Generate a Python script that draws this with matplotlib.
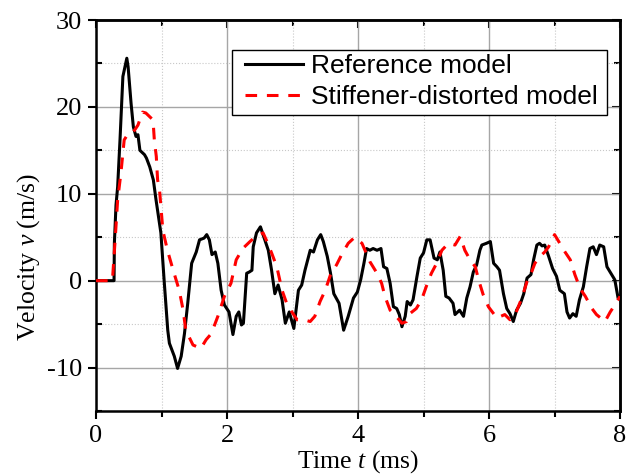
import matplotlib
matplotlib.use('Agg')
import matplotlib.pyplot as plt
from matplotlib.ticker import MultipleLocator, NullFormatter
from matplotlib.patches import Rectangle

plt.rcParams['font.family'] = 'Liberation Serif'
plt.rcParams['mathtext.fontset'] = 'custom'
plt.rcParams['mathtext.rm'] = 'Liberation Serif'
plt.rcParams['mathtext.it'] = 'Liberation Serif:italic'
plt.rcParams['axes.unicode_minus'] = False

# Reference model (black solid)
t_ref = [0.0, 0.275, 0.28, 0.305, 0.33, 0.366, 0.41, 0.47, 0.49, 0.535, 0.57, 0.61, 0.64, 0.67,
         0.74, 0.77, 0.82, 0.875, 0.916, 0.99, 1.04, 1.095, 1.12, 1.195, 1.245, 1.30, 1.35, 1.40,
         1.46, 1.53, 1.58, 1.65, 1.69, 1.73, 1.77, 1.82, 1.86, 1.91, 1.96, 2.03, 2.09, 2.14, 2.18,
         2.22, 2.25, 2.30, 2.34, 2.38, 2.40, 2.45, 2.51, 2.55, 2.63, 2.68, 2.73, 2.78, 2.84, 2.89,
         2.95, 3.02, 3.09, 3.14, 3.19, 3.27, 3.32, 3.38, 3.43, 3.47, 3.53, 3.58, 3.63, 3.71, 3.78,
         3.85, 3.93, 3.99, 4.04, 4.09, 4.13, 4.18, 4.23, 4.29, 4.35, 4.39, 4.44, 4.49, 4.54, 4.59,
         4.63, 4.67, 4.72, 4.75, 4.80, 4.84, 4.90, 4.95, 5.00, 5.05, 5.10, 5.16, 5.21, 5.25, 5.30,
         5.34, 5.39, 5.45, 5.48, 5.55, 5.61, 5.66, 5.71, 5.76, 5.81, 5.86, 5.89, 5.96, 6.02, 6.07,
         6.12, 6.16, 6.22, 6.27, 6.32, 6.37, 6.42, 6.48, 6.53, 6.58, 6.64, 6.68, 6.73, 6.77, 6.81,
         6.85, 6.91, 6.97, 7.03, 7.08, 7.15, 7.19, 7.23, 7.28, 7.33, 7.38, 7.44, 7.49, 7.54, 7.59,
         7.64, 7.69, 7.75, 7.80, 7.86, 7.92, 7.97, 8.0]
v_ref = [0.0, 0.0, 4.3, 8.7, 10.8, 16.2, 23.5, 25.6, 24.6, 20.4, 17.7, 16.6, 16.8, 15.0,
         14.5, 14.1, 13.1, 11.6, 9.3, 5.5, 0.0, -5.7, -7.2, -8.7, -10.1, -8.7, -6.1, -2.6,
         2.0, 3.3, 4.7, 4.9, 5.3, 4.7, 3.0, 3.3, 2.0, -1.1, -2.8, -3.6, -6.2, -4.1, -3.6,
         -5.1, -4.9, 0.85, 1.0, 1.2, 3.9, 5.5, 6.2, 5.3, 3.5, 1.2, -1.5, -0.5, -2.2, -4.9,
         -3.6, -5.5, -1.1, -0.5, 1.2, 3.5, 3.3, 4.7, 5.3, 4.5, 2.8, 0.85, -1.5, -2.6, -5.7,
         -4.1, -2.0, -1.3, 0.1, 2.0, 3.7, 3.5, 3.7, 3.5, 3.7, 1.6, 1.4, -0.3, -3.0, -3.2,
         -3.9, -5.3, -4.1, -2.4, -2.8, -2.2, 0.5, 2.6, 3.2, 4.7, 4.7, 2.6, 2.4, 3.3, 1.2,
         -1.8, -2.0, -2.6, -3.9, -3.4, -4.1, -2.0, -0.7, 1.0, 1.8, 3.5, 4.1, 4.3, 4.5, 2.0,
         1.6, 1.2, -1.5, -3.2, -3.8, -4.7, -3.4, -2.6, -1.5, 0.3, 0.7, 2.4, 4.1, 4.3, 4.0,
         4.1, 2.8, 1.4, 0.5, -1.1, -1.5, -3.6, -4.3, -3.8, -4.1, -2.2, -0.7, 1.6, 3.7, 3.9,
         3.0, 4.1, 3.9, 1.6, 0.85, 0.1, -2.0, -1.8]

# Stiffener-distorted model (red dashed)
t_stf = [0.0, 0.25, 0.29, 0.33, 0.38, 0.43, 0.48, 0.56, 0.64, 0.71, 0.76, 0.87, 0.89, 0.92,
         0.94, 0.97, 1.02, 1.09, 1.17, 1.27, 1.33, 1.37, 1.48, 1.60, 1.68, 1.76, 1.86, 1.96,
         2.06, 2.14, 2.24, 2.35, 2.44, 2.55, 2.61, 2.68, 2.76, 2.84, 2.91, 2.99, 3.07, 3.17,
         3.27, 3.34, 3.42, 3.50, 3.58, 3.67, 3.75, 3.85, 3.95, 4.06, 4.18, 4.29, 4.36, 4.41,
         4.49, 4.56, 4.67, 4.74, 4.79, 4.89, 4.97, 5.05, 5.12, 5.20, 5.28, 5.38, 5.48, 5.56,
         5.63, 5.71, 5.79, 5.84, 5.91, 5.99, 6.12, 6.24, 6.32, 6.40, 6.50, 6.58, 6.65, 6.70,
         6.78, 6.85, 6.91, 7.00, 7.08, 7.16, 7.24, 7.31, 7.39, 7.47, 7.57, 7.64, 7.77, 7.85,
         7.92, 8.0]
v_stf = [0.0, 0.0, 4.5, 9.3, 12.4, 16.2, 16.8, 17.0, 17.9, 19.4, 19.3, 18.5, 16.2, 14.3,
         11.6, 10.4, 5.8, 3.5, 1.4, -1.1, -3.4, -5.7, -7.4, -7.8, -6.8, -6.1, -4.1, -1.8,
         -0.3, 2.4, 3.7, 4.5, 5.1, 5.5, 4.5, 3.2, 1.6, -1.1, -2.6, -3.6, -4.5, -4.5,
         -4.7, -4.1, -2.4, -1.1, 0.7, 1.8, 3.0, 4.3, 5.0, 4.3, 2.2, 0.85, -0.3, -1.8,
         -3.4, -3.9, -4.9, -4.7, -3.8, -3.2, -2.2, -0.5, 0.85, 2.0, 3.5, 4.3, 4.1, 5.1,
         3.5, 2.4, 1.6, 0.1, -1.6, -3.0, -4.3, -3.9, -4.5, -3.9, -2.0, -0.1, 1.0, 2.0,
         2.8, 3.3, 3.9, 5.3, 4.3, 3.3, 2.4, 0.7, -0.9, -1.8, -3.2, -3.9, -4.7, -3.6,
         -2.8, -1.8]

fig = plt.figure(figsize=(6.26, 4.74), dpi=100)
ax = fig.add_axes([0.1534, 0.1329, 0.8371, 0.8249])

ax.plot(t_ref, v_ref, color='black', lw=2.2, label='Reference model', zorder=3)
ax.plot(t_stf, v_stf, color='red', lw=2.2, dashes=(3.8, 3.2), label='Stiffener-distorted model', zorder=4)

ax.set_xlim(0, 8)
ax.set_ylim(-15, 30)
ax.xaxis.set_major_locator(MultipleLocator(2))
ax.xaxis.set_minor_locator(MultipleLocator(1))
ax.yaxis.set_major_locator(MultipleLocator(10))
ax.yaxis.set_minor_locator(MultipleLocator(5))

ax.grid(which='major', color='#a6a6a6', lw=1.0, ls='-')
ax.grid(which='minor', color='#c8c8c8', lw=0.8, ls=':')
ax.set_axisbelow(True)

# bottom / left: ticks outward; top / right: ticks inward
ax.tick_params(which='both', direction='out', width=1.5, labelsize=19)
ax.tick_params(which='major', length=6, pad=4)
ax.tick_params(which='minor', length=4)
ax.tick_params(axis='y', which='minor', direction='in')
for s in ax.spines.values():
    s.set_linewidth(1.8)

top = ax.secondary_xaxis('top')
top.xaxis.set_major_locator(MultipleLocator(2))
top.xaxis.set_minor_locator(MultipleLocator(1))
top.xaxis.set_major_formatter(NullFormatter())
top.tick_params(which='both', direction='in', width=1.5)
top.tick_params(which='major', length=6)
top.tick_params(which='minor', length=4)
top.spines['top'].set_linewidth(1.8)

right = ax.secondary_yaxis('right')
right.yaxis.set_major_locator(MultipleLocator(10))
right.yaxis.set_minor_locator(MultipleLocator(5))
right.yaxis.set_major_formatter(NullFormatter())
right.tick_params(which='both', direction='in', width=1.5)
right.tick_params(which='major', length=6)
right.tick_params(which='minor', length=4)
right.spines['right'].set_linewidth(1.8)

ax.set_xlabel('Time $t$ (ms)', fontsize=18.5, labelpad=1)
ax.set_ylabel('Velocity $v$ (m/s)', fontsize=18.5)
ax.yaxis.set_label_coords(-0.103, 0.395)

# legend box
ax.add_patch(Rectangle((0.2595, 0.757), 0.7155, 0.1663, transform=ax.transAxes,
                       facecolor='white', edgecolor='black', lw=1.0, zorder=5))
leg = ax.legend(loc='upper left', bbox_to_anchor=(0.2844, 0.912), frameon=False,
                handlelength=2.2, handletextpad=0.3, borderpad=0, labelspacing=0.25,
                borderaxespad=0, prop={'family': 'Liberation Sans', 'size': 19})
leg.set_zorder(6)

plt.savefig('out.png', dpi=100)
